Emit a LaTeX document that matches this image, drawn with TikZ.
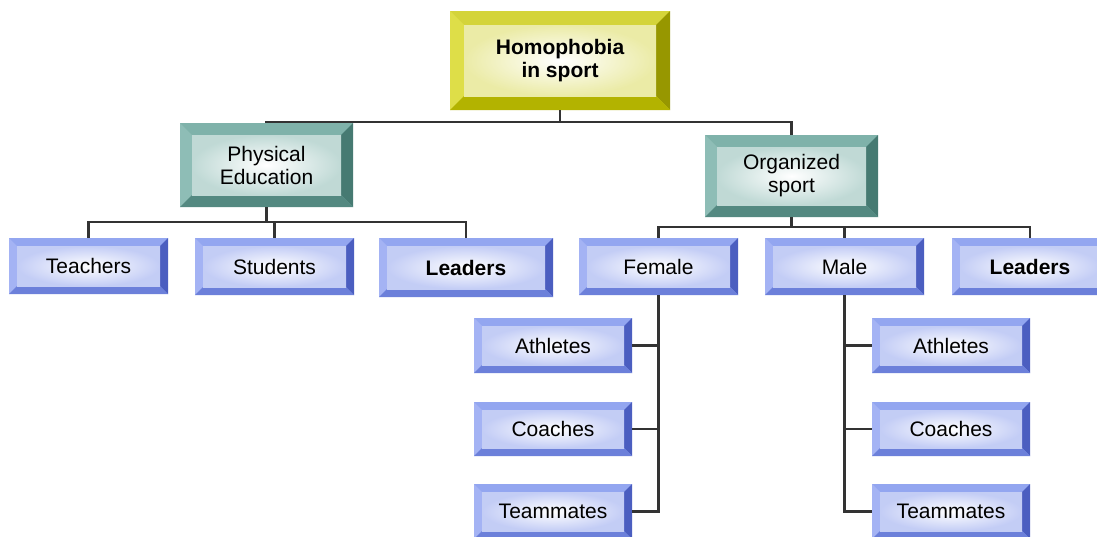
\documentclass[tikz,border=0pt]{standalone}
\usepackage{fontspec}
\setmainfont{Liberation Sans}
\definecolor{bluT}{HTML}{93A6F0}
\definecolor{bluL}{HTML}{A4B3F4}
\definecolor{bluR}{HTML}{4B5EC0}
\definecolor{bluB}{HTML}{6C80DA}
\definecolor{bluI}{HTML}{B4C0F3}
\definecolor{teaT}{HTML}{7FB2AA}
\definecolor{teaL}{HTML}{8EBDB6}
\definecolor{teaR}{HTML}{467A72}
\definecolor{teaB}{HTML}{548981}
\definecolor{teaI}{HTML}{B0D0CB}
\definecolor{yelT}{HTML}{D4D43A}
\definecolor{yelL}{HTML}{DEDE48}
\definecolor{yelR}{HTML}{979700}
\definecolor{yelB}{HTML}{B3B300}
\definecolor{yelI}{HTML}{E6E690}
\definecolor{linecol}{HTML}{333333}
\tikzset{
  conn/.style={draw=linecol, line width=2.2pt},
  boxlabel/.style={inner sep=0pt, align=center},
}
% #1 name, #2 x1, #3 y1, #4 x2, #5 y2, #6 bevel, #7 colour prefix, #8 extra font, #9 text
\newcommand\bevbox[9]{%
  \fill[#7T] (#2,#3) rectangle (#4,#5);
  \fill[#7L] (#2,#3) -- ({#2+#6},{#3+#6}) -- ({#2+#6},{#5-#6}) -- (#2,#5) -- cycle;
  \fill[#7R] (#4,#3) -- ({#4-#6},{#3+#6}) -- ({#4-#6},{#5-#6}) -- (#4,#5) -- cycle;
  \fill[#7B] (#2,#5) -- ({#2+#6},{#5-#6}) -- ({#4-#6},{#5-#6}) -- (#4,#5) -- cycle;
  \shade[inner color=white, outer color=#7I!80!white] ({#2+#6},{#3+#6}) rectangle ({#4-#6},{#5-#6});
  \node[boxlabel, font=\fontsize{21}{23}\selectfont#8,
        minimum width={(#4-#2)*1pt}, minimum height={(#5-#3)*1pt}]
        (#1) at ({(#2+#4)/2},{(#3+#5)/2}) {#9};
}
\begin{document}
\begin{tikzpicture}[x=1pt, y=-1pt]
\useasboundingbox (0,0) rectangle (1097,536);
\fill[white] (0,0) rectangle (1097,536);
\clip (0,0) rectangle (1097,536);
% boxes
\bevbox{root}{450}{11}{670}{110}{14}{yel}{\bfseries}{Homophobia\\in sport}
\bevbox{pe}{180}{123}{353}{207}{12}{tea}{}{Physical\\Education}
\bevbox{org}{705}{135}{878}{217}{12}{tea}{}{Organized\\sport}
\bevbox{teach}{9}{238}{168}{294}{8}{blu}{}{Teachers}
\bevbox{stud}{195}{238}{354}{295}{8}{blu}{}{Students}
\bevbox{leadl}{379}{238}{553}{297}{8}{blu}{\bfseries}{Leaders}
\bevbox{fem}{579}{238}{738}{295}{8}{blu}{}{Female}
\bevbox{male}{765}{238}{924}{295}{8}{blu}{}{Male}
\bevbox{leadr}{952}{238}{1108}{295}{8}{blu}{\bfseries}{Leaders}
\bevbox{fath}{474}{318}{632}{373}{8}{blu}{}{Athletes}
\bevbox{fcoa}{474}{402}{632}{456}{8}{blu}{}{Coaches}
\bevbox{ftea}{474}{484}{632}{539}{8}{blu}{}{Teammates}
\bevbox{math}{872}{318}{1030}{373}{8}{blu}{}{Athletes}
\bevbox{mcoa}{872}{402}{1030}{456}{8}{blu}{}{Coaches}
\bevbox{mtea}{872}{484}{1030}{539}{8}{blu}{}{Teammates}
% connectors
\draw[conn] (root.south) -- ++(0,12) -| (pe.north);
\draw[conn] (root.south) ++(0,12) -| (org.north);
\draw[conn] (pe.south) -- ++(0,15) -| (teach.north);
\draw[conn] (pe.south) ++(0,15) -| (leadl.north);
\draw[conn] (pe.south) ++(0,15) -| (stud.north);
\draw[conn] (org.south) -- ++(0,10) -| (fem.north);
\draw[conn] (org.south) ++(0,10) -| (leadr.north);
\draw[conn] (org.south) ++(0,10) -| (male.north);
\draw[conn] (fem.south) |- (ftea.east);
\draw[conn] (fath.east) -- (fath.east -| fem.south);
\draw[conn] (fcoa.east) -- (fcoa.east -| fem.south);
\draw[conn] (male.south) |- (mtea.west);
\draw[conn] (math.west) -- (math.west -| male.south);
\draw[conn] (mcoa.west) -- (mcoa.west -| male.south);
\end{tikzpicture}
\end{document}
